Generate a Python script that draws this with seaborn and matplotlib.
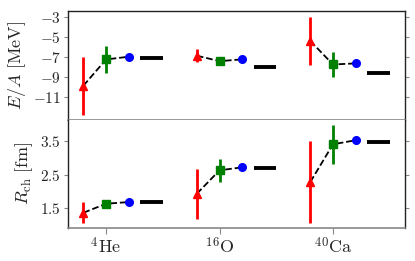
import matplotlib
matplotlib.use("Agg")
import matplotlib.pyplot as plt
import numpy as np
import pandas as pd
import seaborn as sns

# Data
nuclei = [r"$^{4}\mathrm{He}$", r"$^{16}\mathrm{O}$", r"$^{40}\mathrm{Ca}$"]

ea_red = [-9.85, -6.88, -5.42]
ea_red_err = [2.87, 0.65, 2.37]
ea_green = [-7.25, -7.42, -7.75]
ea_green_err = [1.36, 0.25, 1.27]
ea_blue = [-6.98, -7.24, -7.64]
ea_blue_err = [0.0, 0.0, 0.0]
ea_exp = [-7.07, -7.98, -8.55]

r_red = [1.36, 1.93, 2.28]
r_red_err = [0.32, 0.75, 1.24]
r_green = [1.63, 2.63, 3.41]
r_green_err = [0.07, 0.35, 0.59]
r_blue = [1.68, 2.72, 3.53]
r_blue_err = [0.0, 0.03, 0.10]
r_exp = [1.68, 2.70, 3.48]

ea_ticks = [-3, -5, -7, -9, -11]
r_ticks = [3.5, 2.5, 1.5]

sns.set_style("white")
plt.rcParams["font.family"] = ["DejaVu Serif"]
plt.rcParams["mathtext.fontset"] = "cm"

fig, axes = plt.subplots(2, 1, figsize=(4.15, 2.61), dpi=100, sharex=True)
fig.subplots_adjust(left=0.164, right=0.976, top=0.958, bottom=0.126, hspace=0)

pos = np.arange(len(nuclei))
off = 0.2


def panel(ax, red, red_err, green, green_err, blue, blue_err, exp):
    rows = []
    for i in pos:
        for dx, v in zip([-off, 0, off], [red[i], green[i], blue[i]]):
            rows.append({"x": i + dx, "y": v, "nuc": i})
    df = pd.DataFrame(rows)
    sns.lineplot(data=df, x="x", y="y", units="nuc", estimator=None,
                 color="black", linestyle="--", lw=1.3, ax=ax, zorder=1)
    ax.errorbar(pos - off, red, yerr=red_err, fmt="^", color="red",
                ms=6, elinewidth=2, zorder=3)
    ax.errorbar(pos, green, yerr=green_err, fmt="s", color="green",
                ms=5.5, elinewidth=2, zorder=3)
    ax.errorbar(pos + off, blue, yerr=blue_err, fmt="o", color="blue",
                ms=5.5, elinewidth=2, zorder=3)
    ax.hlines(exp, pos + 2 * off - 0.1, pos + 2 * off + 0.1,
              color="black", lw=2.8, zorder=3)
    ax.set_xlabel("")
    ax.set_ylabel("")


top, bot = axes
panel(top, ea_red, ea_red_err, ea_green, ea_green_err, ea_blue, ea_blue_err, ea_exp)
panel(bot, r_red, r_red_err, r_green, r_green_err, r_blue, r_blue_err, r_exp)

top.set_ylim(-13.2, -2.45)
bot.set_ylim(0.9, 4.15)
bot.set_xlim(-0.335, 2.635)

top.set_yticks(ea_ticks, [rf"$-{abs(t)}$" for t in ea_ticks], fontsize=11)
bot.set_yticks(r_ticks, [rf"${t}$" for t in r_ticks], fontsize=11)
bot.set_xticks(pos, nuclei, fontsize=13)

top.set_ylabel(r"$E/A\ [\mathrm{MeV}]$", fontsize=13)
bot.set_ylabel(r"$R_{\mathrm{ch}}\ [\mathrm{fm}]$", fontsize=13)

for ax in axes:
    for s in ["left", "right", "top"]:
        ax.spines[s].set_color("#222222")
        ax.spines[s].set_linewidth(1.0)
    ax.spines["bottom"].set_color("#888888")
    ax.spines["bottom"].set_linewidth(1.2)
    ax.tick_params(axis="y", which="both", left=True, right=True,
                   direction="out", length=3, color="#888888", pad=2)
    ax.tick_params(axis="x", bottom=False)
bot.spines["top"].set_visible(False)
bot.tick_params(axis="x", bottom=True, direction="out", length=4,
                color="#888888", pad=2)

fig.savefig("out.png", dpi=100)
